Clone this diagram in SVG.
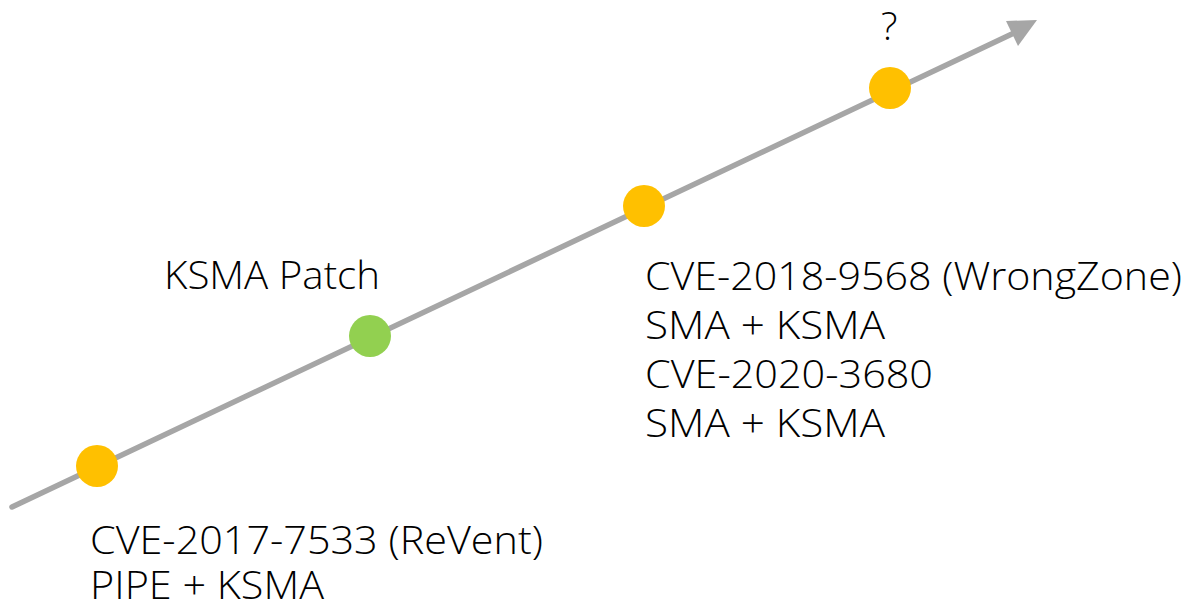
<svg xmlns="http://www.w3.org/2000/svg" width="1187" height="603" viewBox="0 0 1187 603">
<style>
.lbl{font-family:"Open Sans","Noto Sans","Liberation Sans",sans-serif;font-weight:300;font-size:39px;fill:#000}
.y{fill:#FFC000}
.g{fill:#92D050}
</style>
<rect width="1187" height="603" fill="#fff"/>
<g id="connectors">
<line x1="12" y1="507" x2="1014" y2="33" stroke="#A6A6A6" stroke-width="5.5" stroke-linecap="round"/>
<polygon points="1006,21 1037,20 1018,46" fill="#A6A6A6"/>
</g>
<g id="n1"><circle class="y" cx="97" cy="466" r="21"/>
<text class="lbl" x="90" y="554" textLength="453" lengthAdjust="spacingAndGlyphs">CVE-2017-7533 (ReVent)</text>
<text class="lbl" x="90" y="599" textLength="234" lengthAdjust="spacingAndGlyphs">PIPE + KSMA</text></g>
<g id="n2"><circle class="g" cx="370" cy="336" r="21"/>
<text class="lbl" x="164" y="289" textLength="216" lengthAdjust="spacingAndGlyphs">KSMA Patch</text></g>
<g id="n3"><circle class="y" cx="644" cy="206" r="21"/>
<text class="lbl" x="645" y="290" textLength="537" lengthAdjust="spacingAndGlyphs">CVE-2018-9568 (WrongZone)</text>
<text class="lbl" x="645" y="339" textLength="240" lengthAdjust="spacingAndGlyphs">SMA + KSMA</text>
<text class="lbl" x="645" y="388" textLength="288" lengthAdjust="spacingAndGlyphs">CVE-2020-3680</text>
<text class="lbl" x="645" y="437" textLength="240" lengthAdjust="spacingAndGlyphs">SMA + KSMA</text></g>
<g id="n4"><circle class="y" cx="890" cy="88" r="21"/>
<text class="lbl" x="881" y="40">?</text></g>
</svg>
